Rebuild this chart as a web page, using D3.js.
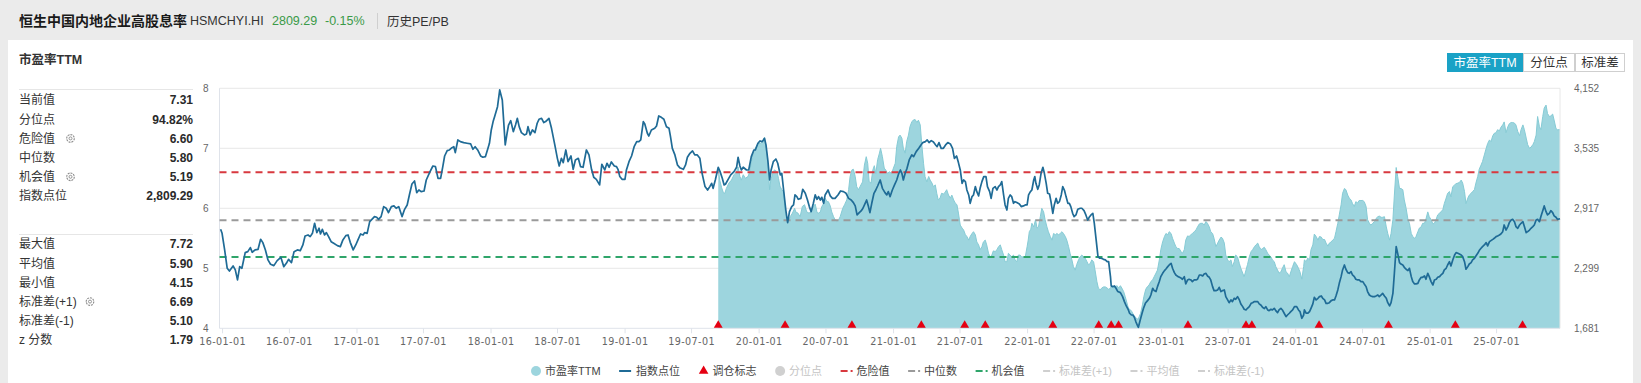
<!DOCTYPE html>
<html><head><meta charset="utf-8">
<script src="https://cdn.jsdelivr.net/npm/d3@7"></script>
<style>
html,body{margin:0;padding:0;background:#ebebeb;overflow:hidden;}
svg{display:block;}
text{font-family:"Liberation Sans","Noto Sans CJK SC",Arial,sans-serif;}
</style></head><body>
<svg id="c" width="1641" height="383"></svg>
<script>
// ---------------- DATA ----------------
const titleInfo = ["恒生中国内地企业高股息率", "HSMCHYI.HI", "2809.29", "-0.15%", "历史PE/PB"];
const statsTop = [["当前值","7.31"],["分位点","94.82%"],["危险值","6.60"],["中位数","5.80"],["机会值","5.19"],["指数点位","2,809.29"]];
const statsBottom = [["最大值","7.72"],["平均值","5.90"],["最小值","4.15"],["标准差(+1)","6.69"],["标准差(-1)","5.10"],["z 分数","1.79"]];
const gearRows = ["危险值","机会值","标准差(+1)"];
const buttons = ["市盈率TTM","分位点","标准差"];
const peTicks = [4,5,6,7,8];
const indexTicks = [1681,2299,2917,3535,4152];
const xTicks = ["2016-01-01","2016-07-01","2017-01-01","2017-07-01","2018-01-01","2018-07-01","2019-01-01","2019-07-01","2020-01-01","2020-07-01","2021-01-01","2021-07-01","2022-01-01","2022-07-01","2023-01-01","2023-07-01","2024-01-01","2024-07-01","2025-01-01","2025-07-01"];
const xDomain = ["2015-12-25","2025-12-22"];
const refLines = [["危险值",6.60],["中位数",5.80],["机会值",5.19]];
const rebalanceDates = ["2019-09-13","2020-03-13","2020-09-11","2021-03-19","2021-07-15","2021-09-09","2022-03-12","2022-07-15","2022-08-18","2022-09-07","2023-03-15","2023-08-20","2023-09-05","2024-03-06","2024-09-11","2025-03-12","2025-09-11"];
const legendLabels = ["市盈率TTM","指数点位","调仓标志","分位点","危险值","中位数","机会值","标准差(+1)","平均值","标准差(-1)"];

const indexSeries = [
["2015-12-28",2700],["2016-01-01",2659],["2016-01-08",2488],["2016-01-15",2299],["2016-01-21",2271],["2016-01-31",2323],["2016-02-06",2282],["2016-02-12",2179],["2016-02-18",2316],["2016-02-24",2299],["2016-03-04",2460],["2016-03-11",2470],["2016-03-18",2512],["2016-03-23",2464],["2016-03-31",2488],["2016-04-08",2494],["2016-04-15",2597],["2016-04-21",2563],["2016-04-28",2488],["2016-05-05",2385],["2016-05-12",2340],["2016-05-21",2326],["2016-05-30",2378],["2016-06-09",2412],["2016-06-17",2316],["2016-06-24",2350],["2016-06-30",2391],["2016-07-08",2357],["2016-07-15",2470],["2016-07-24",2488],["2016-08-01",2481],["2016-08-08",2539],["2016-08-14",2632],["2016-08-22",2642],["2016-08-28",2625],["2016-09-03",2659],["2016-09-09",2762],["2016-09-15",2666],["2016-09-21",2711],["2016-09-25",2652],["2016-09-30",2700],["2016-10-06",2642],["2016-10-11",2666],["2016-10-17",2625],["2016-10-24",2573],["2016-10-31",2556],["2016-11-10",2532],["2016-11-18",2522],["2016-11-25",2591],["2016-12-03",2635],["2016-12-09",2642],["2016-12-15",2566],["2016-12-23",2488],["2016-12-30",2539],
["2017-01-05",2591],["2017-01-12",2652],["2017-01-19",2642],["2017-01-23",2666],["2017-01-30",2659],["2017-02-06",2779],["2017-02-12",2803],["2017-02-19",2831],["2017-02-25",2824],["2017-03-02",2803],["2017-03-09",2831],["2017-03-16",2934],["2017-03-23",2917],["2017-03-29",2872],["2017-04-06",2934],["2017-04-13",2941],["2017-04-19",2917],["2017-04-26",2934],["2017-05-05",2831],["2017-05-12",2906],["2017-05-19",2951],["2017-05-25",3054],["2017-06-01",3167],["2017-06-08",3198],["2017-06-14",3078],["2017-06-20",3105],["2017-06-26",3088],["2017-07-04",3095],["2017-07-10",3208],["2017-07-19",3284],["2017-07-28",3352],["2017-08-04",3346],["2017-08-11",3225],["2017-08-18",3225],["2017-08-24",3346],["2017-08-29",3455],["2017-09-05",3510],["2017-09-11",3517],["2017-09-18",3541],["2017-09-23",3551],["2017-09-27",3490],["2017-10-04",3620],["2017-10-11",3603],["2017-10-20",3593],["2017-10-29",3586],["2017-11-08",3579],["2017-11-14",3524],["2017-11-20",3551],["2017-11-27",3517],["2017-12-05",3455],["2017-12-11",3442],["2017-12-18",3448],["2017-12-25",3534],["2017-12-29",3586],
["2018-01-03",3723],["2018-01-08",3809],["2018-01-12",3860],["2018-01-20",3963],["2018-01-26",4135],["2018-02-02",4032],["2018-02-05",3860],["2018-02-10",3569],["2018-02-15",3689],["2018-02-19",3774],["2018-02-25",3819],["2018-03-04",3706],["2018-03-10",3774],["2018-03-15",3843],["2018-03-20",3757],["2018-03-26",3696],["2018-04-03",3672],["2018-04-09",3682],["2018-04-13",3757],["2018-04-19",3672],["2018-04-25",3723],["2018-05-02",3696],["2018-05-08",3792],["2018-05-13",3833],["2018-05-20",3843],["2018-05-26",3799],["2018-05-31",3809],["2018-06-09",3843],["2018-06-16",3740],["2018-06-25",3569],["2018-07-02",3431],["2018-07-07",3352],["2018-07-13",3431],["2018-07-18",3387],["2018-07-25",3517],["2018-07-31",3397],["2018-08-08",3455],["2018-08-14",3318],["2018-08-20",3414],["2018-08-28",3431],["2018-09-03",3346],["2018-09-10",3339],["2018-09-19",3517],["2018-09-26",3466],["2018-10-03",3318],["2018-10-09",3236],["2018-10-16",3215],["2018-10-25",3157],["2018-10-31",3370],["2018-11-08",3311],["2018-11-14",3380],["2018-11-20",3339],["2018-11-26",3394],["2018-12-04",3352],["2018-12-10",3346],["2018-12-14",3318],["2018-12-19",3243],["2018-12-25",3215],
["2019-01-02",3215],["2019-01-06",3311],["2019-01-13",3397],["2019-01-20",3455],["2019-01-27",3551],["2019-02-03",3603],["2019-02-09",3603],["2019-02-14",3620],["2019-02-21",3809],["2019-02-25",3785],["2019-03-04",3689],["2019-03-08",3661],["2019-03-15",3723],["2019-03-24",3740],["2019-03-29",3764],["2019-04-04",3867],["2019-04-11",3853],["2019-04-18",3833],["2019-04-25",3757],["2019-05-02",3740],["2019-05-06",3654],["2019-05-11",3534],["2019-05-18",3466],["2019-05-25",3363],["2019-05-31",3335],["2019-06-10",3318],["2019-06-16",3363],["2019-06-21",3442],["2019-06-28",3483],["2019-07-05",3507],["2019-07-11",3466],["2019-07-18",3466],["2019-07-25",3431],["2019-07-31",3277],["2019-08-08",3140],["2019-08-15",3105],["2019-08-21",3140],["2019-08-26",3174],["2019-08-30",3122],["2019-09-05",3208],["2019-09-13",3339],["2019-09-18",3294],["2019-09-24",3225],["2019-09-29",3157],["2019-10-03",3167],["2019-10-10",3215],["2019-10-17",3260],["2019-10-26",3294],["2019-11-02",3339],["2019-11-06",3442],["2019-11-11",3352],["2019-11-15",3311],["2019-11-20",3339],["2019-11-29",3311],["2019-12-05",3311],["2019-12-12",3448],["2019-12-19",3517],["2019-12-23",3517],["2019-12-30",3586],
["2020-01-05",3610],["2020-01-11",3603],["2020-01-17",3637],["2020-01-21",3569],["2020-01-26",3414],["2020-01-31",3208],["2020-02-04",3311],["2020-02-10",3397],["2020-02-17",3424],["2020-02-22",3380],["2020-02-26",3311],["2020-02-29",3260],["2020-03-04",3277],["2020-03-09",3105],["2020-03-15",2899],["2020-03-20",2769],["2020-03-25",2882],["2020-03-31",2934],["2020-04-05",2951],["2020-04-09",3054],["2020-04-14",3037],["2020-04-18",3009],["2020-04-25",3019],["2020-04-30",3112],["2020-05-07",3071],["2020-05-13",3002],["2020-05-18",2934],["2020-05-23",2882],["2020-05-29",2968],["2020-06-03",3054],["2020-06-08",3009],["2020-06-12",3037],["2020-06-17",3002],["2020-06-21",3030],["2020-06-26",2968],["2020-06-30",3054],["2020-07-08",3105],["2020-07-14",3044],["2020-07-20",3019],["2020-07-27",3019],["2020-08-04",3054],["2020-08-11",3095],["2020-08-19",3088],["2020-08-26",3071],["2020-09-02",3019],["2020-09-09",3002],["2020-09-15",2975],["2020-09-20",2941],["2020-09-25",2848],["2020-10-01",2872],["2020-10-06",2889],["2020-10-11",2917],["2020-10-17",2968],["2020-10-21",3002],["2020-10-26",2934],["2020-10-30",2872],["2020-11-04",2968],["2020-11-10",3071],["2020-11-15",3105],["2020-11-20",3146],["2020-11-27",3208],["2020-12-03",3122],["2020-12-10",3078],["2020-12-15",3054],["2020-12-19",3088],["2020-12-24",3037],["2020-12-30",3105],
["2021-01-05",3157],["2021-01-11",3208],["2021-01-16",3270],["2021-01-21",3311],["2021-01-25",3277],["2021-01-29",3208],["2021-02-03",3277],["2021-02-08",3328],["2021-02-14",3414],["2021-02-21",3466],["2021-02-26",3448],["2021-03-05",3500],["2021-03-12",3534],["2021-03-18",3569],["2021-03-23",3593],["2021-03-30",3603],["2021-04-04",3620],["2021-04-09",3593],["2021-04-15",3613],["2021-04-21",3599],["2021-04-27",3569],["2021-05-01",3551],["2021-05-06",3593],["2021-05-12",3534],["2021-05-18",3534],["2021-05-24",3569],["2021-05-30",3593],["2021-06-06",3579],["2021-06-12",3534],["2021-06-17",3431],["2021-06-23",3455],["2021-06-28",3387],["2021-07-03",3311],["2021-07-08",3174],["2021-07-12",3208],["2021-07-17",3191],["2021-07-21",3105],["2021-07-26",3054],["2021-07-30",2968],["2021-08-04",3037],["2021-08-08",3054],["2021-08-13",3140],["2021-08-17",3088],["2021-08-22",3044],["2021-08-26",3122],["2021-08-31",3191],["2021-09-05",3243],["2021-09-11",3243],["2021-09-15",3140],["2021-09-21",3088],["2021-09-25",3019],["2021-09-30",3122],["2021-10-06",3140],["2021-10-11",3105],["2021-10-15",3140],["2021-10-20",3157],["2021-10-24",3191],["2021-10-29",3054],["2021-11-02",2951],["2021-11-07",2899],["2021-11-11",3019],["2021-11-16",3054],["2021-11-20",3037],["2021-11-25",2968],["2021-11-29",2985],["2021-12-04",2975],["2021-12-11",2961],["2021-12-16",2934],["2021-12-22",2941],["2021-12-27",2951],
["2022-01-01",2951],["2022-01-05",3054],["2022-01-10",3088],["2022-01-14",3105],["2022-01-19",3208],["2022-01-22",3243],["2022-01-25",3174],["2022-01-30",3112],["2022-02-03",3157],["2022-02-08",3277],["2022-02-13",3339],["2022-02-17",3277],["2022-02-22",3174],["2022-02-26",3071],["2022-03-03",3064],["2022-03-07",2985],["2022-03-12",2865],["2022-03-16",2951],["2022-03-21",3019],["2022-03-25",2968],["2022-03-30",2985],["2022-04-04",3054],["2022-04-08",3140],["2022-04-13",3098],["2022-04-17",3037],["2022-04-22",2968],["2022-04-26",2968],["2022-04-30",2934],["2022-05-05",2865],["2022-05-09",2831],["2022-05-14",2848],["2022-05-19",2906],["2022-05-26",2917],["2022-05-30",2917],["2022-06-05",2892],["2022-06-10",2848],["2022-06-15",2796],["2022-06-19",2824],["2022-06-24",2848],["2022-06-29",2865],["2022-07-03",2762],["2022-07-08",2591],["2022-07-13",2419],["2022-07-18",2402],["2022-07-22",2402],["2022-07-28",2391],["2022-08-02",2385],["2022-08-07",2367],["2022-08-11",2367],["2022-08-16",2213],["2022-08-18",2117],["2022-08-22",2110],["2022-08-27",2117],["2022-08-31",2093],["2022-09-05",2059],["2022-09-12",2048],["2022-09-18",2007],["2022-09-23",1956],["2022-09-28",1911],["2022-10-03",1877],["2022-10-07",1836],["2022-10-12",1818],["2022-10-16",1818],["2022-10-20",1794],["2022-10-24",1750],["2022-10-29",1705],["2022-10-31",1691],["2022-11-05",1767],["2022-11-10",1836],["2022-11-14",1887],["2022-11-19",1938],["2022-11-25",1966],["2022-11-30",1990],["2022-12-04",2024],["2022-12-09",2093],["2022-12-13",2069],["2022-12-18",2059],["2022-12-22",2110],["2022-12-27",2162],["2022-12-31",2213],
["2023-01-05",2247],["2023-01-10",2275],["2023-01-14",2292],["2023-01-19",2316],["2023-01-23",2333],["2023-01-28",2350],["2023-02-01",2299],["2023-02-06",2254],["2023-02-10",2230],["2023-02-16",2213],["2023-02-20",2206],["2023-02-25",2196],["2023-02-28",2186],["2023-03-05",2213],["2023-03-09",2138],["2023-03-14",2179],["2023-03-18",2186],["2023-03-23",2179],["2023-03-27",2162],["2023-04-01",2179],["2023-04-06",2179],["2023-04-10",2186],["2023-04-15",2230],["2023-04-19",2230],["2023-04-24",2220],["2023-04-28",2240],["2023-05-03",2247],["2023-05-07",2220],["2023-05-12",2206],["2023-05-16",2179],["2023-05-21",2110],["2023-05-25",2069],["2023-05-30",2069],["2023-06-04",2076],["2023-06-08",2103],["2023-06-13",2059],["2023-06-17",2069],["2023-06-22",2076],["2023-06-26",2007],["2023-07-01",1973],["2023-07-05",1945],["2023-07-10",1973],["2023-07-14",1956],["2023-07-19",1990],["2023-07-23",1980],["2023-07-28",2007],["2023-08-02",1973],["2023-08-06",1932],["2023-08-11",1904],["2023-08-15",1877],["2023-08-20",1870],["2023-08-24",1887],["2023-08-29",1904],["2023-09-03",1938],["2023-09-07",1945],["2023-09-12",1956],["2023-09-16",1956],["2023-09-21",1956],["2023-09-25",1932],["2023-09-30",1918],["2023-10-04",1897],["2023-10-09",1884],["2023-10-13",1904],["2023-10-18",1870],["2023-10-22",1863],["2023-10-27",1877],["2023-10-31",1870],["2023-11-05",1887],["2023-11-09",1863],["2023-11-14",1842],["2023-11-18",1870],["2023-11-23",1887],["2023-11-27",1870],["2023-12-02",1836],["2023-12-07",1801],["2023-12-11",1818],["2023-12-16",1836],["2023-12-20",1853],["2023-12-25",1870],["2023-12-30",1904],
["2024-01-05",1904],["2024-01-10",1870],["2024-01-14",1853],["2024-01-19",1784],["2024-01-24",1818],["2024-01-26",1870],["2024-01-31",1836],["2024-02-04",1836],["2024-02-09",1853],["2024-02-13",1887],["2024-02-18",1932],["2024-02-22",2000],["2024-02-27",1973],["2024-03-03",1990],["2024-03-07",2007],["2024-03-12",2014],["2024-03-16",1990],["2024-03-21",1973],["2024-03-25",1938],["2024-03-30",1938],["2024-04-03",1945],["2024-04-08",1966],["2024-04-12",1973],["2024-04-17",1973],["2024-04-21",2014],["2024-04-26",2076],["2024-04-30",2144],["2024-05-05",2213],["2024-05-09",2282],["2024-05-14",2333],["2024-05-18",2289],["2024-05-23",2254],["2024-05-27",2247],["2024-06-01",2265],["2024-06-05",2230],["2024-06-10",2213],["2024-06-14",2186],["2024-06-19",2179],["2024-06-23",2179],["2024-06-28",2162],["2024-07-03",2162],["2024-07-07",2138],["2024-07-12",2110],["2024-07-16",2059],["2024-07-21",2024],["2024-07-25",2014],["2024-07-30",2007],["2024-08-04",2007],["2024-08-08",2014],["2024-08-13",2024],["2024-08-17",2007],["2024-08-22",2024],["2024-08-26",2041],["2024-08-31",2014],["2024-09-05",1990],["2024-09-09",1945],["2024-09-14",1911],["2024-09-18",1945],["2024-09-23",2041],["2024-09-27",2247],["2024-10-02",2522],["2024-10-06",2453],["2024-10-11",2357],["2024-10-15",2343],["2024-10-20",2333],["2024-10-24",2309],["2024-10-29",2289],["2024-11-03",2275],["2024-11-07",2299],["2024-11-12",2213],["2024-11-16",2162],["2024-11-21",2138],["2024-11-25",2138],["2024-11-30",2144],["2024-12-04",2179],["2024-12-09",2206],["2024-12-13",2206],["2024-12-18",2220],["2024-12-22",2186],["2024-12-27",2247],["2024-12-31",2213],
["2025-01-05",2162],["2025-01-10",2127],["2025-01-14",2179],["2025-01-19",2186],["2025-01-23",2206],["2025-01-28",2213],["2025-02-01",2230],["2025-02-06",2247],["2025-02-10",2282],["2025-02-15",2299],["2025-02-19",2333],["2025-02-24",2367],["2025-02-28",2323],["2025-03-05",2385],["2025-03-10",2436],["2025-03-14",2460],["2025-03-19",2453],["2025-03-23",2446],["2025-03-28",2436],["2025-04-01",2419],["2025-04-06",2367],["2025-04-10",2289],["2025-04-15",2316],["2025-04-19",2343],["2025-04-24",2357],["2025-04-28",2385],["2025-05-03",2402],["2025-05-07",2426],["2025-05-12",2453],["2025-05-16",2481],["2025-05-21",2505],["2025-05-25",2522],["2025-05-30",2539],["2025-06-04",2563],["2025-06-08",2529],["2025-06-13",2573],["2025-06-17",2584],["2025-06-22",2597],["2025-06-26",2608],["2025-07-01",2625],["2025-07-05",2632],["2025-07-10",2642],["2025-07-14",2652],["2025-07-19",2676],["2025-07-23",2745],["2025-07-28",2693],["2025-08-02",2728],["2025-08-06",2769],["2025-08-11",2796],["2025-08-15",2803],["2025-08-20",2779],["2025-08-24",2728],["2025-08-29",2711],["2025-09-03",2745],["2025-09-07",2762],["2025-09-12",2779],["2025-09-16",2728],["2025-09-21",2666],["2025-09-25",2676],["2025-09-30",2693],["2025-10-04",2711],["2025-10-09",2728],["2025-10-13",2745],["2025-10-18",2796],["2025-10-22",2803],["2025-10-27",2779],["2025-10-31",2831],["2025-11-05",2892],["2025-11-09",2941],["2025-11-14",2882],["2025-11-18",2848],["2025-11-23",2865],["2025-11-27",2892],["2025-12-02",2872],["2025-12-06",2838],["2025-12-11",2824],["2025-12-15",2803],["2025-12-22",2809.29]
];

const peSeries = [
["2019-09-13",6.67],["2019-09-17",6.47],["2019-09-22",6.35],["2019-09-27",6.26],["2019-10-01",6.25],["2019-10-05",6.33],["2019-10-12",6.42],["2019-10-19",6.47],["2019-10-26",6.56],["2019-11-02",6.61],["2019-11-06",6.69],["2019-11-11",6.53],["2019-11-15",6.47],["2019-11-20",6.56],["2019-11-26",6.50],["2019-12-03",6.53],["2019-12-08",6.61],["2019-12-12",6.78],["2019-12-19",6.97],["2019-12-23",7.00],["2019-12-30",7.08],
["2020-01-05",7.08],["2020-01-11",7.11],["2020-01-17",7.18],["2020-01-21",7.03],["2020-01-26",6.75],["2020-01-31",6.31],["2020-02-03",6.47],["2020-02-08",6.58],["2020-02-13",6.64],["2020-02-20",6.61],["2020-02-24",6.50],["2020-02-28",6.37],["2020-03-04",6.31],["2020-03-09",6.28],["2020-03-13",5.97],["2020-03-18",5.81],["2020-03-22",5.78],["2020-03-27",5.86],["2020-04-02",5.92],["2020-04-08",6.00],["2020-04-11",5.94],["2020-04-17",5.92],["2020-04-23",5.86],["2020-04-29",6.03],["2020-05-05",6.06],["2020-05-11",5.94],["2020-05-17",5.92],["2020-05-23",5.94],["2020-05-29",6.03],["2020-06-03",6.07],["2020-06-08",5.93],["2020-06-12",5.92],["2020-06-17",5.94],["2020-06-21",6.03],["2020-06-26",6.08],["2020-06-30",6.17],["2020-07-05",6.11],["2020-07-09",6.11],["2020-07-14",6.04],["2020-07-18",5.94],["2020-07-23",5.86],["2020-07-27",5.81],["2020-08-01",5.78],["2020-08-06",5.81],["2020-08-10",5.86],["2020-08-17",6.00],["2020-08-22",6.06],["2020-08-28",6.14],["2020-09-02",6.31],["2020-09-06",6.53],["2020-09-11",6.64],["2020-09-15",6.65],["2020-09-20",6.53],["2020-09-24",6.36],["2020-09-29",6.31],["2020-10-03",6.36],["2020-10-10",6.44],["2020-10-15",6.72],["2020-10-20",6.86],["2020-10-24",6.75],["2020-10-28",6.44],["2020-11-02",6.42],["2020-11-07",6.64],["2020-11-11",6.71],["2020-11-15",6.58],["2020-11-20",6.81],["2020-11-25",6.92],["2020-11-28",7.00],["2020-12-03",6.86],["2020-12-08",6.67],["2020-12-13",6.63],["2020-12-17",6.58],["2020-12-22",6.61],["2020-12-28",6.58],
["2021-01-02",6.67],["2021-01-07",6.75],["2021-01-11",7.03],["2021-01-16",7.19],["2021-01-20",7.22],["2021-01-25",7.17],["2021-01-29",7.00],["2021-02-03",6.92],["2021-02-07",7.11],["2021-02-12",7.22],["2021-02-16",7.36],["2021-02-21",7.44],["2021-02-25",7.47],["2021-03-02",7.48],["2021-03-07",7.43],["2021-03-11",7.47],["2021-03-16",7.39],["2021-03-20",7.08],["2021-03-25",6.75],["2021-03-29",6.53],["2021-04-03",6.44],["2021-04-08",6.53],["2021-04-12",6.47],["2021-04-17",6.42],["2021-04-21",6.36],["2021-04-26",6.39],["2021-04-30",6.25],["2021-05-04",6.14],["2021-05-09",6.17],["2021-05-13",6.25],["2021-05-18",6.24],["2021-05-22",6.26],["2021-05-27",6.31],["2021-06-01",6.22],["2021-06-06",6.17],["2021-06-10",6.22],["2021-06-15",6.14],["2021-06-19",6.09],["2021-06-24",6.06],["2021-06-28",5.92],["2021-07-03",5.72],["2021-07-08",5.67],["2021-07-12",5.64],["2021-07-17",5.56],["2021-07-21",5.53],["2021-07-26",5.47],["2021-07-30",5.53],["2021-08-04",5.58],["2021-08-08",5.61],["2021-08-13",5.56],["2021-08-17",5.44],["2021-08-22",5.39],["2021-08-26",5.31],["2021-08-31",5.36],["2021-09-04",5.44],["2021-09-09",5.47],["2021-09-13",5.39],["2021-09-18",5.25],["2021-09-22",5.19],["2021-09-27",5.22],["2021-10-01",5.29],["2021-10-06",5.28],["2021-10-11",5.31],["2021-10-15",5.36],["2021-10-20",5.39],["2021-10-24",5.31],["2021-10-29",5.22],["2021-11-02",5.11],["2021-11-07",5.11],["2021-11-11",5.25],["2021-11-16",5.22],["2021-11-20",5.19],["2021-11-25",5.22],["2021-11-29",5.14],["2021-12-04",5.11],["2021-12-08",5.22],["2021-12-13",5.22],["2021-12-17",5.19],["2021-12-22",5.19],["2021-12-27",5.19],
["2022-01-01",5.36],["2022-01-04",5.47],["2022-01-07",5.61],["2022-01-11",5.65],["2022-01-14",5.75],["2022-01-19",5.69],["2022-01-24",5.81],["2022-01-28",5.67],["2022-02-01",5.69],["2022-02-06",5.86],["2022-02-10",6.00],["2022-02-15",5.94],["2022-02-19",5.81],["2022-02-24",5.69],["2022-02-28",5.61],["2022-03-05",5.53],["2022-03-10",5.47],["2022-03-14",5.58],["2022-03-19",5.56],["2022-03-23",5.58],["2022-03-28",5.56],["2022-04-01",5.58],["2022-04-06",5.61],["2022-04-10",5.58],["2022-04-15",5.53],["2022-04-19",5.47],["2022-04-24",5.36],["2022-04-28",5.25],["2022-05-03",5.14],["2022-05-07",5.03],["2022-05-12",4.97],["2022-05-16",5.06],["2022-05-21",5.14],["2022-05-25",5.19],["2022-05-30",5.22],["2022-06-04",5.19],["2022-06-08",5.17],["2022-06-13",5.11],["2022-06-17",5.06],["2022-06-22",5.08],["2022-06-26",5.14],["2022-07-01",5.11],["2022-07-05",4.97],["2022-07-10",4.78],["2022-07-14",4.67],["2022-07-19",4.64],["2022-07-23",4.67],["2022-07-28",4.69],["2022-08-02",4.69],["2022-08-07",4.67],["2022-08-11",4.65],["2022-08-16",4.67],["2022-08-20",4.71],["2022-08-25",4.67],["2022-08-29",4.69],["2022-09-03",4.71],["2022-09-07",4.67],["2022-09-12",4.71],["2022-09-16",4.67],["2022-09-21",4.61],["2022-09-25",4.53],["2022-09-30",4.42],["2022-10-04",4.33],["2022-10-09",4.31],["2022-10-13",4.28],["2022-10-18",4.22],["2022-10-22",4.19],["2022-10-27",4.16],["2022-10-30",4.15],["2022-11-02",4.19],["2022-11-06",4.25],["2022-11-11",4.39],["2022-11-15",4.53],["2022-11-20",4.65],["2022-11-24",4.69],["2022-11-29",4.72],["2022-12-04",4.78],["2022-12-09",4.81],["2022-12-13",4.86],["2022-12-18",4.92],["2022-12-22",4.97],["2022-12-27",5.14],["2022-12-31",5.31],
["2023-01-05",5.44],["2023-01-10",5.53],["2023-01-14",5.58],["2023-01-19",5.56],["2023-01-23",5.61],["2023-01-28",5.58],["2023-02-01",5.50],["2023-02-06",5.42],["2023-02-10",5.36],["2023-02-15",5.33],["2023-02-19",5.33],["2023-02-24",5.28],["2023-02-28",5.25],["2023-03-05",5.31],["2023-03-09",5.47],["2023-03-14",5.54],["2023-03-18",5.53],["2023-03-23",5.56],["2023-03-27",5.58],["2023-04-01",5.61],["2023-04-06",5.64],["2023-04-10",5.69],["2023-04-15",5.74],["2023-04-19",5.75],["2023-04-24",5.75],["2023-04-28",5.72],["2023-05-03",5.78],["2023-05-07",5.75],["2023-05-12",5.69],["2023-05-16",5.61],["2023-05-21",5.58],["2023-05-25",5.50],["2023-05-30",5.36],["2023-06-04",5.42],["2023-06-08",5.47],["2023-06-13",5.52],["2023-06-17",5.50],["2023-06-22",5.42],["2023-06-26",5.22],["2023-07-01",5.14],["2023-07-05",5.11],["2023-07-10",5.14],["2023-07-14",5.03],["2023-07-19",5.11],["2023-07-23",5.22],["2023-07-28",5.19],["2023-08-02",5.08],["2023-08-06",5.00],["2023-08-11",4.92],["2023-08-15",4.86],["2023-08-20",4.97],["2023-08-24",5.06],["2023-08-29",5.19],["2023-09-03",5.28],["2023-09-07",5.31],["2023-09-12",5.36],["2023-09-16",5.39],["2023-09-21",5.42],["2023-09-25",5.36],["2023-09-30",5.31],["2023-10-04",5.33],["2023-10-09",5.35],["2023-10-13",5.31],["2023-10-18",5.25],["2023-10-22",5.22],["2023-10-27",5.19],["2023-10-31",5.14],["2023-11-05",5.11],["2023-11-09",5.03],["2023-11-14",4.97],["2023-11-18",4.92],["2023-11-23",4.94],["2023-11-27",5.00],["2023-12-02",5.06],["2023-12-07",4.94],["2023-12-11",4.92],["2023-12-16",4.86],["2023-12-20",4.94],["2023-12-25",5.03],["2023-12-30",5.11],
["2024-01-05",5.06],["2024-01-10",5.00],["2024-01-14",4.94],["2024-01-19",4.82],["2024-01-24",5.03],["2024-01-26",5.14],["2024-01-31",5.11],["2024-02-04",5.17],["2024-02-09",5.14],["2024-02-13",5.31],["2024-02-18",5.39],["2024-02-22",5.57],["2024-02-27",5.53],["2024-03-03",5.47],["2024-03-07",5.53],["2024-03-12",5.52],["2024-03-16",5.48],["2024-03-21",5.48],["2024-03-25",5.42],["2024-03-30",5.37],["2024-04-03",5.42],["2024-04-08",5.44],["2024-04-12",5.47],["2024-04-17",5.50],["2024-04-21",5.61],["2024-04-26",5.75],["2024-04-30",5.89],["2024-05-05",6.06],["2024-05-09",6.25],["2024-05-14",6.33],["2024-05-18",6.31],["2024-05-23",6.22],["2024-05-27",6.17],["2024-06-01",6.14],["2024-06-05",6.08],["2024-06-10",6.03],["2024-06-14",6.11],["2024-06-19",6.09],["2024-06-23",6.13],["2024-06-28",6.13],["2024-07-03",6.13],["2024-07-07",6.11],["2024-07-12",6.03],["2024-07-16",5.81],["2024-07-21",5.75],["2024-07-25",5.72],["2024-07-30",5.75],["2024-08-04",5.78],["2024-08-08",5.83],["2024-08-13",5.86],["2024-08-17",5.87],["2024-08-22",5.85],["2024-08-26",5.85],["2024-08-31",5.86],["2024-09-05",5.69],["2024-09-09",5.58],["2024-09-14",5.47],["2024-09-18",5.58],["2024-09-23",5.81],["2024-09-27",6.22],["2024-10-02",6.68],["2024-10-06",6.53],["2024-10-11",6.33],["2024-10-15",6.33],["2024-10-20",6.31],["2024-10-24",6.14],["2024-10-29",6.00],["2024-11-03",5.81],["2024-11-07",5.75],["2024-11-12",5.58],["2024-11-16",5.53],["2024-11-21",5.50],["2024-11-25",5.53],["2024-11-30",5.61],["2024-12-04",5.67],["2024-12-09",5.69],["2024-12-13",5.75],["2024-12-18",5.75],["2024-12-22",5.82],["2024-12-27",5.94],["2024-12-31",5.86],
["2025-01-05",5.81],["2025-01-10",5.74],["2025-01-14",5.75],["2025-01-19",5.82],["2025-01-23",5.89],["2025-01-28",5.92],["2025-02-01",5.94],["2025-02-06",5.98],["2025-02-10",6.08],["2025-02-15",6.17],["2025-02-19",6.25],["2025-02-24",6.28],["2025-02-28",6.19],["2025-03-05",6.36],["2025-03-10",6.39],["2025-03-14",6.41],["2025-03-19",6.42],["2025-03-23",6.43],["2025-03-28",6.47],["2025-04-01",6.42],["2025-04-06",6.28],["2025-04-10",6.08],["2025-04-15",6.17],["2025-04-19",6.22],["2025-04-24",6.25],["2025-04-28",6.28],["2025-05-03",6.31],["2025-05-07",6.42],["2025-05-12",6.53],["2025-05-16",6.65],["2025-05-21",6.72],["2025-05-25",6.78],["2025-05-30",6.89],["2025-06-04",7.00],["2025-06-08",7.08],["2025-06-13",7.14],["2025-06-17",7.11],["2025-06-22",7.21],["2025-06-26",7.25],["2025-07-01",7.26],["2025-07-05",7.31],["2025-07-10",7.29],["2025-07-14",7.35],["2025-07-19",7.39],["2025-07-23",7.44],["2025-07-28",7.26],["2025-08-02",7.36],["2025-08-06",7.41],["2025-08-11",7.43],["2025-08-15",7.43],["2025-08-20",7.42],["2025-08-24",7.39],["2025-08-29",7.28],["2025-09-03",7.21],["2025-09-07",7.31],["2025-09-12",7.39],["2025-09-16",7.31],["2025-09-21",7.17],["2025-09-25",7.06],["2025-09-30",7.00],["2025-10-04",7.02],["2025-10-09",7.06],["2025-10-13",7.11],["2025-10-18",7.22],["2025-10-22",7.53],["2025-10-27",7.36],["2025-10-31",7.31],["2025-11-05",7.53],["2025-11-09",7.67],["2025-11-14",7.72],["2025-11-18",7.58],["2025-11-23",7.53],["2025-11-27",7.54],["2025-12-02",7.57],["2025-12-06",7.47],["2025-12-11",7.33],["2025-12-15",7.31],["2025-12-22",7.31]
];

// ---------------- RENDER ----------------
const parseDate = d3.timeParse("%Y-%m-%d");
const W = 1641, H = 383;
const svg = d3.select("#c");
const C = {
  bg:"#ebebeb", text:"#333", sub:"#666", grid:"#ececec", axis:"#dfe3ea",
  area:"#9dd5de", areaEdge:"#86cbd5", line:"#1f6b96", red:"#d8393f", gray:"#9a9a9a",
  green:"#2fa56a", tri:"#e50012", teal:"#1aa2c6", up:"#3a9a48", light:"#c8c8c8"
};

svg.append("rect").attr("width",W).attr("height",H).attr("fill",C.bg);

// header
const hdr = svg.append("g");
hdr.append("text").attr("x",19).attr("y",25.5).attr("font-size",14).attr("font-weight","bold").attr("fill","#1a1a1a").text(titleInfo[0]);
hdr.append("text").attr("x",190).attr("y",25).attr("font-size",12.5).attr("fill",C.text).text(titleInfo[1]);
hdr.append("text").attr("x",272).attr("y",25).attr("font-size",12.5).attr("fill",C.up).text(titleInfo[2]);
hdr.append("text").attr("x",325).attr("y",25).attr("font-size",12.5).attr("fill",C.up).text(titleInfo[3]);
hdr.append("line").attr("x1",377.5).attr("x2",377.5).attr("y1",13).attr("y2",29).attr("stroke","#cfcfcf");
hdr.append("text").attr("x",387).attr("y",25.5).attr("font-size",12.5).attr("fill",C.text).text(titleInfo[4]);

// card
svg.append("rect").attr("x",8).attr("y",40).attr("width",1625).attr("height",350).attr("fill","#fff");

// panel title
svg.append("text").attr("x",19).attr("y",63.5).attr("font-size",12.5).attr("font-weight","bold").attr("fill",C.text).text("市盈率TTM");

// stats
function drawStats(rows, y0) {
  rows.forEach((r,i) => {
    const y = y0 + i*19.2;
    svg.append("text").attr("x",19).attr("y",y).attr("font-size",12).attr("fill",C.text).text(r[0]);
    svg.append("text").attr("x",193).attr("y",y).attr("font-size",12).attr("font-weight","bold").attr("fill","#2a2a2a").attr("text-anchor","end").text(r[1]);
    if (gearRows.includes(r[0])) {
      const gx = r[0].length > 3 ? 90 : 70.5;
      const g = svg.append("g").attr("transform",`translate(${gx},${y-4.3})`);
      g.append("circle").attr("r",3.8).attr("fill","none").attr("stroke","#8a8a8a").attr("stroke-width",1.1).attr("stroke-dasharray","2,0.9");
      g.append("circle").attr("r",1.5).attr("fill","none").attr("stroke","#8a8a8a").attr("stroke-width",0.9);
    }
  });
}
svg.append("line").attr("x1",19).attr("x2",193).attr("y1",89.5).attr("y2",89.5).attr("stroke","#e6e6e6");
drawStats(statsTop, 104.3);
svg.append("line").attr("x1",19).attr("x2",193).attr("y1",234.5).attr("y2",234.5).attr("stroke","#e6e6e6");
drawStats(statsBottom, 248.3);

// buttons
const btnX = [1447, 1523, 1575, 1625];
buttons.forEach((b,i) => {
  const active = i === 0;
  svg.append("rect").attr("x",btnX[i]+0.5).attr("y",53.5).attr("width",btnX[i+1]-btnX[i]-1).attr("height",18)
    .attr("fill",active?C.teal:"#fff").attr("stroke",active?C.teal:"#cfcfcf");
  svg.append("text").attr("x",(btnX[i]+btnX[i+1])/2).attr("y",66.8).attr("text-anchor","middle").attr("font-size",12.5)
    .attr("fill",active?"#fff":C.text).text(b);
});

// scales
const plot = {left:219.5, right:1560, top:88.3, bottom:328.3};
const x = d3.scaleTime().domain(xDomain.map(parseDate)).range([plot.left, plot.right]);
const yPE = d3.scaleLinear().domain([peTicks[0], peTicks[peTicks.length-1]]).range([plot.bottom, plot.top]);
const yIdx = d3.scaleLinear().domain([indexTicks[0], indexTicks[indexTicks.length-1]]).range([plot.bottom, plot.top]);

const chart = svg.append("g");
// gridlines
chart.selectAll(".grid").data(peTicks.slice(1)).join("line")
  .attr("x1",plot.left).attr("x2",plot.right).attr("y1",d=>yPE(d)).attr("y2",d=>yPE(d))
  .attr("stroke",C.grid).attr("stroke-width",1.2);

// area
const peData = peSeries.map(d => ({date:parseDate(d[0]), v:d[1]}));
chart.append("path").datum(peData)
  .attr("d", d3.area().x(d=>x(d.date)).y0(yPE(peTicks[0])).y1(d=>yPE(d.v)))
  .attr("fill",C.area);
chart.append("path").datum(peData)
  .attr("d", d3.line().x(d=>x(d.date)).y(d=>yPE(d.v)))
  .attr("fill","none").attr("stroke",C.areaEdge).attr("stroke-width",1);

// axes frame
chart.append("line").attr("x1",plot.left).attr("x2",plot.left).attr("y1",plot.top).attr("y2",plot.bottom).attr("stroke",C.axis);
chart.append("line").attr("x1",plot.right).attr("x2",plot.right).attr("y1",plot.top).attr("y2",plot.bottom).attr("stroke","#e8e8e8");
chart.append("line").attr("x1",plot.left).attr("x2",plot.right).attr("y1",plot.bottom).attr("y2",plot.bottom).attr("stroke",C.axis);

// x axis
const xAxis = d3.axisBottom(x).tickValues(xTicks.map(parseDate)).tickFormat(d3.timeFormat("%y-%m-%d")).tickSize(5).tickSizeOuter(0);
const xg = chart.append("g").attr("transform",`translate(0,${plot.bottom})`).call(xAxis);
xg.select(".domain").remove();
xg.selectAll(".tick line").attr("stroke",C.axis);
xg.selectAll(".tick text").attr("fill",C.sub).attr("dy","0.9em").attr("letter-spacing","0.4px")
  .style("font-family","'DejaVu Sans',sans-serif").attr("font-size",9.6);

// left axis
const yl = chart.append("g").attr("transform",`translate(${plot.left},0)`)
  .call(d3.axisLeft(yPE).tickValues(peTicks).tickFormat(d3.format("d")).tickSize(0).tickPadding(11));
yl.select(".domain").remove();
yl.selectAll(".tick text").attr("font-size",10).attr("fill",C.sub);

// right axis
const yr = chart.append("g").attr("transform",`translate(${plot.right},0)`).call(d3.axisRight(yIdx).tickValues(indexTicks).tickFormat(d3.format(",")).tickSize(0).tickPadding(14));
yr.select(".domain").remove();
yr.selectAll(".tick text").attr("font-size",10).attr("fill",C.sub);

// reference lines
const refColors = [C.red, C.gray, C.green];
chart.selectAll(".ref").data(refLines).join("line")
  .attr("x1",plot.left).attr("x2",plot.right).attr("y1",d=>yPE(d[1])).attr("y2",d=>yPE(d[1]))
  .attr("stroke",(d,i)=>refColors[i]).attr("stroke-width",2).attr("stroke-dasharray","7,5");

// index line
const idxData = indexSeries.map(d => ({date:parseDate(d[0]), v:d[1]}));
chart.append("path").datum(idxData)
  .attr("d", d3.line().x(d=>x(d.date)).y(d=>yIdx(d.v)))
  .attr("fill","none").attr("stroke",C.line).attr("stroke-width",1.7).attr("stroke-linejoin","round");

// rebalance markers
chart.selectAll(".tri").data(rebalanceDates).join("path")
  .attr("transform", d => `translate(${x(parseDate(d))},${plot.bottom-3})`)
  .attr("d", d3.symbol(d3.symbolTriangle, 34)())
  .attr("fill", C.tri);

// legend
const lg = svg.append("g").attr("transform","translate(0,371)");
let lx = 531;
legendLabels.forEach((lab,i) => {
  const disabled = i === 3 || i >= 7;
  const txtColor = disabled ? "#c4c4c4" : "#444";
  const g = lg.append("g").attr("transform",`translate(${lx},0)`);
  let sw = 0;
  if (i === 0) { g.append("circle").attr("cx",5).attr("r",5).attr("fill",C.area); sw = 14; }
  else if (i === 1) { g.append("line").attr("x1",0).attr("x2",12).attr("stroke",C.line).attr("stroke-width",2); sw = 17; }
  else if (i === 2) { g.append("path").attr("transform","translate(5,0)").attr("d",d3.symbol(d3.symbolTriangle,40)()).attr("fill",C.tri); sw = 14; }
  else if (i === 3) { g.append("circle").attr("cx",5).attr("r",5).attr("fill","#d0d0d0"); sw = 14; }
  else {
    const col = i===4?C.red : i===5?C.gray : i===6?C.green : "#cfcfcf";
    g.append("line").attr("x1",0).attr("x2",7).attr("stroke",col).attr("stroke-width",2);
    g.append("line").attr("x1",10).attr("x2",12).attr("stroke",col).attr("stroke-width",2);
    sw = 16;
  }
  const t = g.append("text").attr("x",sw).attr("y",4).attr("font-size",11).attr("fill",txtColor).text(lab);
  lx += sw + t.node().getComputedTextLength() + 18.5;
});
</script>
</body></html>
